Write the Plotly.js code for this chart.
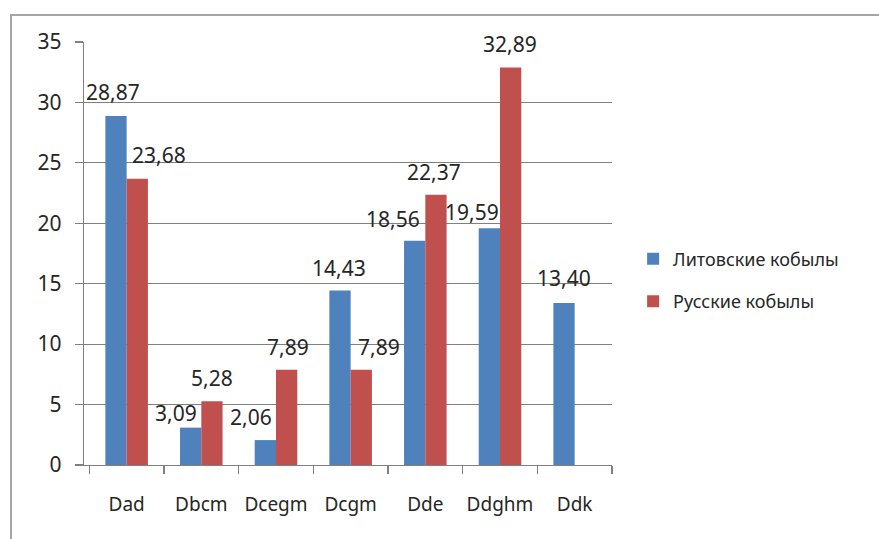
<!DOCTYPE html>
<html>
<head>
<meta charset="utf-8">
<script src="https://cdn.plot.ly/plotly-3.0.1.min.js"></script>
<style>
html,body{margin:0;padding:0;background:#fff;}
#chart{width:879px;height:539px;}
</style>
</head>
<body>
<div id="chart"></div>
<script>
// Data
var categories = ["Dad", "Dbcm", "Dcegm", "Dcgm", "Dde", "Ddghm", "Ddk"];
var lithuanian = [28.87, 3.09, 2.06, 14.43, 18.56, 19.59, 13.40];
var russian = [23.68, 5.28, 7.89, 7.89, 22.37, 32.89, null];
var seriesNames = ["Литовские кобылы", "Русские кобылы"];

// Label nudges (px), as placed in the original
var blueDx = [-3, -15, -14, -1, -22, -17, 0];
var blueDy = [24, 15, 23, 23, 22, 16, 25];
var redDx = [21.5, 0, 1, 18, -1.5, -1, 0];
var redDy = [24, 23, 23, 23, 23, 24, 0];

var FONT = "Noto Sans, DejaVu Sans, sans-serif";
var TXT = "#262626";
var GRID = "#808080";
var bargap = 0.43;
var half = (1 - bargap) / 4;

function fmt(v) { return v.toFixed(2).replace(".", ","); }

var traces = [
  {type: "bar", name: seriesNames[0], x: categories, y: lithuanian,
   marker: {color: "#4F81BD"}, legendgroup: "a", hoverinfo: "y"},
  {type: "bar", name: seriesNames[1], x: categories, y: russian,
   marker: {color: "#C0504D"}, legendgroup: "b", hoverinfo: "y"}
];

var annotations = [];
categories.forEach(function (c, i) {
  if (lithuanian[i] != null) {
    annotations.push({x: i - half, y: lithuanian[i], xref: "x", yref: "y",
      text: fmt(lithuanian[i]), showarrow: false, xanchor: "center", yanchor: "middle",
      xshift: blueDx[i], yshift: blueDy[i], font: {family: FONT, size: 21, color: TXT}});
  }
  if (russian[i] != null) {
    annotations.push({x: i + half, y: russian[i], xref: "x", yref: "y",
      text: fmt(russian[i]), showarrow: false, xanchor: "center", yanchor: "middle",
      xshift: redDx[i], yshift: redDy[i], font: {family: FONT, size: 21, color: TXT}});
  }
});

var layout = {
  width: 879, height: 539,
  margin: {l: 84, r: 267, t: 42, b: 74, pad: 0},
  paper_bgcolor: "#ffffff", plot_bgcolor: "#ffffff",
  font: {family: FONT, size: 21, color: TXT},
  barmode: "group", bargap: bargap, bargroupgap: 0,
  showlegend: true,
  legend: {x: 1.04, y: 0.437, xanchor: "left", yanchor: "middle",
    font: {family: FONT, size: 18, color: TXT}, traceorder: "grouped",
    tracegroupgap: 16, itemwidth: 30, bgcolor: "rgba(0,0,0,0)"},
  xaxis: {type: "category", showline: true, linecolor: GRID, linewidth: 1.2,
    ticks: "outside", tickson: "boundaries", ticklen: 8, tickcolor: GRID, tickwidth: 1.2,
    showgrid: false, zeroline: false, ticklabelstandoff: 22, tickangle: 0,
    automargin: false,
    tickfont: {family: FONT, size: 19, color: TXT}, fixedrange: true},
  yaxis: {range: [0, 35], dtick: 5, tick0: 0, showline: true, linecolor: GRID, linewidth: 1.2,
    ticks: "outside", ticklen: 8, tickcolor: GRID, tickwidth: 1.2,
    showgrid: true, gridcolor: GRID, gridwidth: 1.2, zeroline: false, automargin: false,
    ticklabelstandoff: 9, tickfont: {family: FONT, size: 21, color: TXT}, fixedrange: true},
  annotations: annotations,
  shapes: [{type: "rect", xref: "paper", yref: "paper",
    x0: (11 - 84) / 528, x1: (890 - 84) / 528, y0: (465 - 560) / 423, y1: (465 - 15) / 423,
    line: {color: "#a6a6a6", width: 2}, fillcolor: "rgba(0,0,0,0)", layer: "below"}]
};

Plotly.newPlot("chart", traces, layout, {displayModeBar: false, staticPlot: true});
</script>
</body>
</html>
